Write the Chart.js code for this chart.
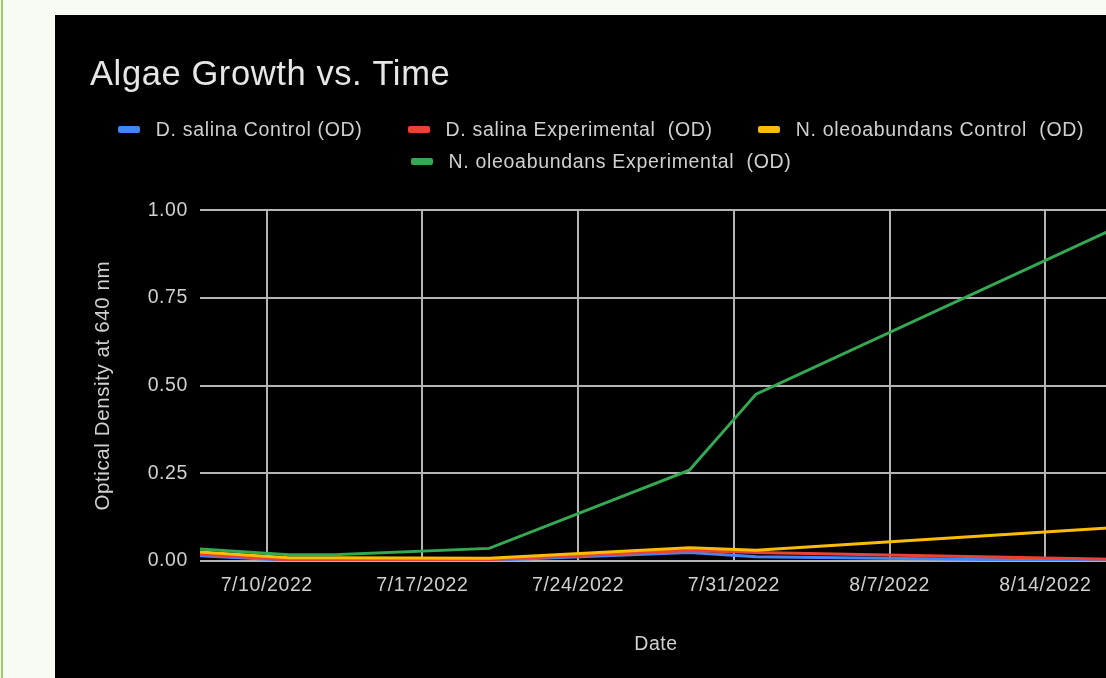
<!DOCTYPE html>
<html>
<head>
<meta charset="utf-8">
<script src="https://cdn.jsdelivr.net/npm/chart.js@4.4.1/dist/chart.umd.min.js"></script>
<style>
  html, body { margin: 0; padding: 0; width: 1106px; height: 678px; overflow: hidden; background: #f8faf4; }
  #leftline { position: absolute; left: 1px; top: 0; width: 2px; height: 678px; background: #9ccc65; }
  #panel { position: absolute; left: 55px; top: 15px; width: 1092px; height: 700px; background: #000; }
  #wrap { position: absolute; left: 0; top: 0; width: 1092px; height: 663px; }
  #legend { position: absolute; left: 0; top: 104px; width: 1092px; box-sizing: border-box; padding: 0 40px;
            display: flex; flex-wrap: wrap; justify-content: center; column-gap: 45px; row-gap: 12px;
            font-family: "Liberation Sans", Arial, sans-serif; font-size: 19.5px; letter-spacing: 0.68px; color: #d0d0d0; }
  .item { display: flex; align-items: center; height: 20px; line-height: 20px; white-space: pre; }
  .box { display: inline-block; width: 22px; height: 7px; border-radius: 2px; margin-right: 16px; }
</style>
</head>
<body>
<div id="leftline"></div>
<div id="panel">
  <div id="wrap"><canvas id="c"></canvas></div>
  <div id="legend"></div>
</div>
<script>
const titleText = 'Algae Growth vs. Time';
const xTitle = 'Date';
const yTitle = 'Optical Density at 640 nm';
const dates = ['7/7/2022', '7/11/2022', '7/13/2022', '7/20/2022', '7/29/2022', '8/1/2022', '8/17/2022'];
const seriesLabels = ['D. salina Control (OD)', 'D. salina Experimental  (OD)', 'N. oleoabundans Control  (OD)', 'N. oleoabundans Experimental  (OD)'];
const salinaControl = [0.015, 0.002, 0.002, 0.002, 0.024, 0.012, 0.000];
const salinaExperimental = [0.020, 0.003, 0.003, 0.004, 0.030, 0.024, 0.005];
const oleoControl = [0.026, 0.0095, 0.0095, 0.008, 0.038, 0.031, 0.095];
const oleoExperimental = [0.034, 0.018, 0.018, 0.036, 0.259, 0.476, 0.945];
const xTickLabels = ['7/10/2022', '7/17/2022', '7/24/2022', '7/31/2022', '8/7/2022', '8/14/2022'];
const yTickValues = [0, 0.25, 0.5, 0.75, 1];
const colors = ['#4285f4', '#ea4335', '#fbbc04', '#34a853'];

function dayNum(s) {
  const [m, d, y] = s.split('/').map(Number);
  return Date.UTC(y, m - 1, d) / 86400000;
}
const seriesValues = [salinaControl, salinaExperimental, oleoControl, oleoExperimental];
const xTickValues = xTickLabels.map(dayNum);

const datasets = seriesValues.map((vals, i) => ({
  label: seriesLabels[i],
  data: vals.map((v, j) => ({ x: dayNum(dates[j]), y: v })),
  borderColor: colors[i],
  backgroundColor: colors[i],
  borderWidth: 3,
  pointRadius: 0,
  pointHoverRadius: 0,
  tension: 0,
  fill: false,
  order: seriesValues.length - i
}));

const FONT = '"Liberation Sans", Arial, sans-serif';
const spacing = {
  id: 'spacing',
  beforeUpdate(c) { c.ctx.letterSpacing = '0.6px'; },
  beforeLayout(c) { c.ctx.letterSpacing = '0.6px'; },
  beforeDraw(c) { c.ctx.letterSpacing = '0.6px'; }
};

const chart = new Chart(document.getElementById('c'), {
  type: 'line',
  data: { datasets },
  plugins: [spacing],
  options: {
    responsive: true,
    maintainAspectRatio: false,
    animation: false,
    layout: { padding: { left: 35, right: 35, top: 0, bottom: 0 } },
    plugins: {
      legend: { display: false },
      tooltip: { enabled: false },
      title: {
        display: true,
        text: titleText,
        align: 'start',
        color: '#e6e6e6',
        font: { family: FONT, size: 34.5, weight: 'normal' },
        padding: { top: 40, bottom: 114 }
      }
    },
    scales: {
      x: {
        type: 'linear',
        min: dayNum(dates[0]),
        max: dayNum(dates[dates.length - 1]),
        afterBuildTicks(scale) { scale.ticks = xTickValues.map(v => ({ value: v })); },
        afterFit(scale) { scale.height = 117; },
        ticks: {
          autoSkip: false,
          maxRotation: 0,
          padding: 13,
          color: '#d0d0d0',
          font: { family: FONT, size: 19.5 },
          callback: (v) => { const k = xTickValues.indexOf(v); return k >= 0 ? xTickLabels[k] : ''; }
        },
        grid: { color: '#b4b4b4', lineWidth: 2, drawTicks: false },
        border: { display: false },
        title: {
          display: true, text: xTitle, color: '#d0d0d0',
          font: { family: FONT, size: 19.5 },
          padding: { top: 0, bottom: 22 }
        }
      },
      y: {
        min: 0, max: 1,
        afterBuildTicks(scale) { scale.ticks = yTickValues.map(v => ({ value: v })); },
        afterFit(scale) { scale.width = 110; },
        ticks: {
          padding: 12,
          color: '#d0d0d0',
          font: { family: FONT, size: 19.5 },
          callback: (v) => Number(v).toFixed(2)
        },
        grid: { color: '#b4b4b4', lineWidth: 2, drawTicks: false },
        border: { display: false },
        title: {
          display: true, text: yTitle, color: '#d0d0d0',
          font: { family: FONT, size: 20.5 },
          padding: { top: 1, bottom: 0 }
        }
      }
    }
  }
});

const legend = document.getElementById('legend');
chart.data.datasets.forEach(ds => {
  const item = document.createElement('div');
  item.className = 'item';
  const box = document.createElement('span');
  box.className = 'box';
  box.style.background = ds.borderColor;
  item.appendChild(box);
  item.appendChild(document.createTextNode(ds.label));
  legend.appendChild(item);
});
</script>
</body>
</html>
